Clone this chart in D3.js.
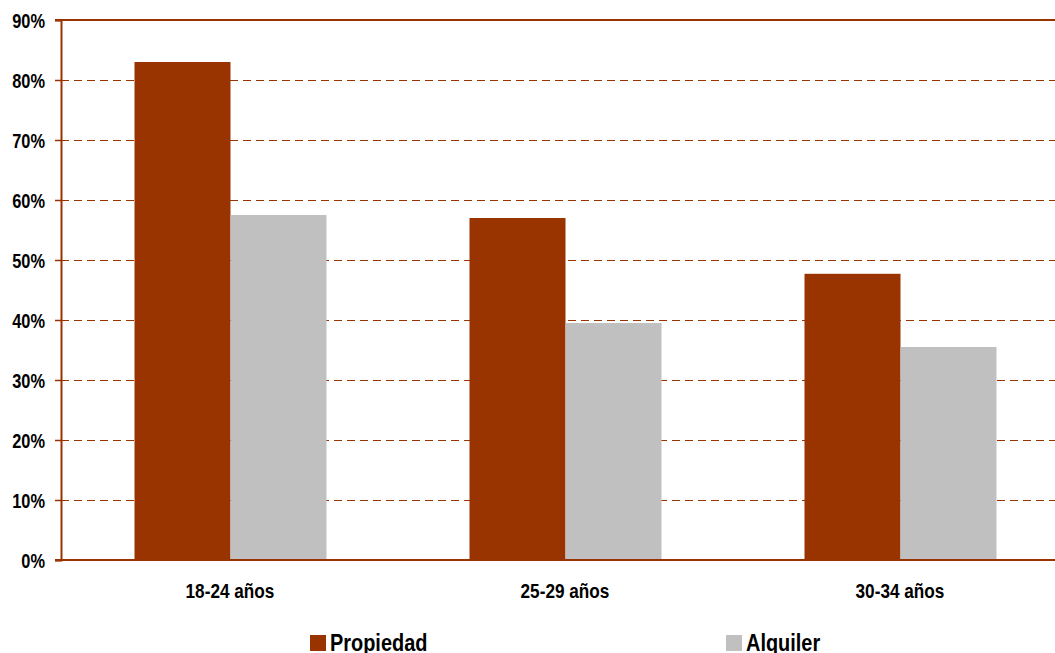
<!DOCTYPE html>
<html><head><meta charset="utf-8">
<script src="https://cdn.jsdelivr.net/npm/d3@7"></script>
<style>
body{margin:0;background:#fff;}
text{font-family:"Liberation Sans",Arial,sans-serif;font-weight:bold;fill:#000;}
</style></head>
<body><svg id="c" width="1055" height="653"></svg>
<script>
const categories = ["18-24 años","25-29 años","30-34 años"];
const seriesNames = ["Propiedad","Alquiler"];
const propiedad = [83.0, 57.0, 47.7];
const alquiler = [57.5, 39.5, 35.5];
const yTicks = [0,10,20,30,40,50,60,70,80,90];
const colors = ["#993300","#C0C0C0"];

(function(){
const svg = d3.select("#c");
const sx = 0.82;
const axisX = 61, mLeft = 62.5, mRight = 1067.5, mTop = 20, mBottom = 560;
const x0 = d3.scaleBand().domain(categories).range([mLeft, mRight]);
const x1 = d3.scaleBand().domain(seriesNames).range([0, x0.bandwidth()]).paddingOuter(0.745);
const y = d3.scaleLinear().domain([0,90]).range([mBottom, mTop]);
const axisColor = "#993300";

svg.append("g").selectAll("line").data(yTicks.filter(d=>d>0 && d<90)).join("line")
  .attr("x1", axisX).attr("x2", 1055).attr("y1", d=>y(d)+0.5).attr("y2", d=>y(d)+0.5)
  .attr("stroke", axisColor).attr("stroke-width",1).attr("stroke-dasharray","8,5");

const data = categories.map((c,i)=>({c, vals:[propiedad[i], alquiler[i]]}));
const g = svg.append("g").selectAll("g").data(data).join("g")
  .attr("transform", d=>`translate(${x0(d.c)},0)`);
g.selectAll("rect").data(d=>d.vals.map((v,j)=>({s:seriesNames[j], v, j}))).join("rect")
  .attr("x", d=>Math.round(x1(d.s))).attr("width", Math.round(x1.bandwidth()))
  .attr("y", d=>y(d.v)).attr("height", d=>mBottom - y(d.v))
  .attr("fill", d=>colors[d.j]);

svg.append("line").attr("x1",55).attr("x2",1055).attr("y1",y(90)).attr("y2",y(90))
  .attr("stroke",axisColor).attr("stroke-width",2);

const yAxis = d3.axisLeft(y).tickValues(yTicks).tickFormat(d=>d+"%").tickSize(6).tickPadding(8);
const ya = svg.append("g").attr("transform",`translate(${axisX},0)`).call(yAxis);
ya.select(".domain").attr("stroke",axisColor).attr("stroke-width",2);
ya.selectAll(".tick line").attr("stroke",axisColor).attr("stroke-width",1.5);
ya.selectAll("text").attr("font-size",20).attr("fill","#000")
  .attr("x",-16/sx).attr("dy","0.35em").attr("transform",`scale(${sx},1)`);

const sxx = 0.86;
const xAxis = d3.axisBottom(x0).tickSize(0);
const xa = svg.append("g").attr("transform",`translate(0,${mBottom})`).call(xAxis);
xa.select(".domain").attr("stroke",axisColor).attr("stroke-width",2).attr("d",`M55,0H1055`);
xa.selectAll("text").attr("font-size",20).attr("fill","#000")
  .attr("y",38).attr("dy",0).attr("transform",`scale(${sxx},1)`);

const legendX = [310, 726];
const lg = svg.append("g").selectAll("g").data(seriesNames).join("g")
  .attr("transform",(d,i)=>`translate(${legendX[i]},635)`);
lg.append("rect").attr("width",16).attr("height",16).attr("fill",(d,i)=>colors[i]);
lg.append("text").attr("transform",`translate(20,16) scale(0.83,1)`)
  .attr("font-size",24).text(d=>d);
})();
</script></body></html>
